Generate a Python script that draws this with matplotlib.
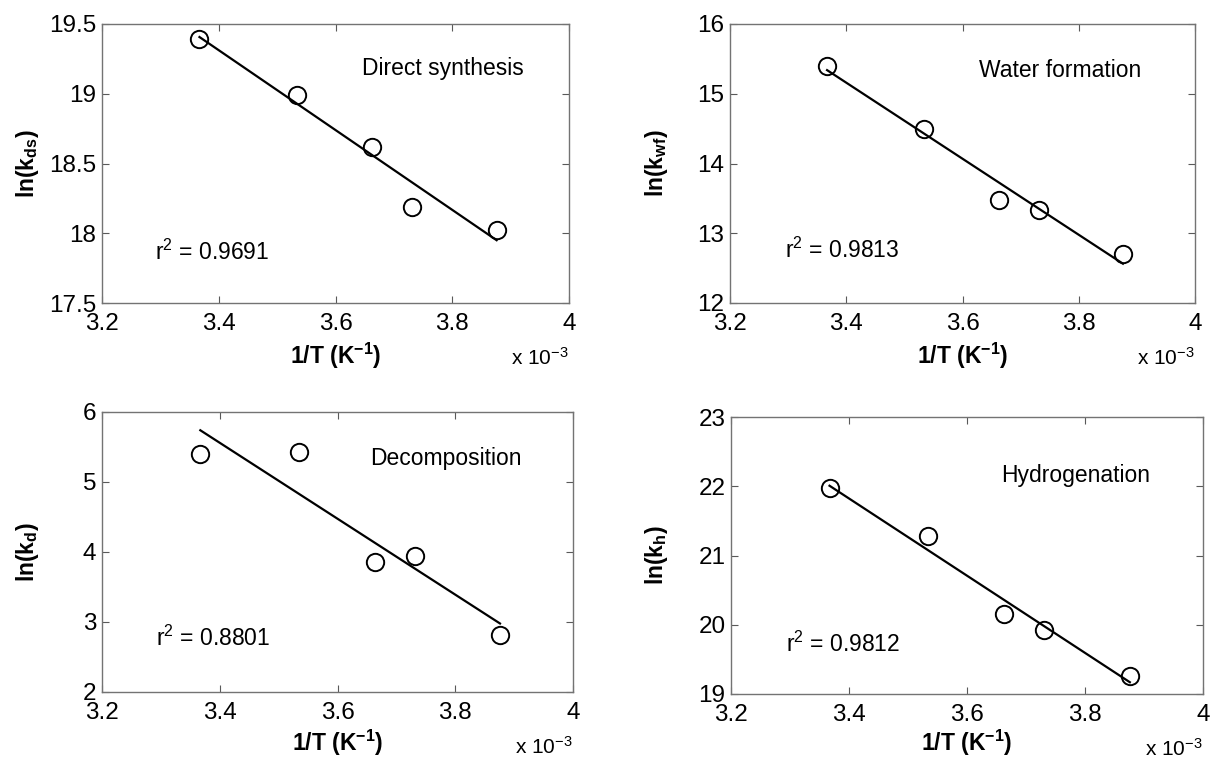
import numpy as np
import matplotlib
matplotlib.use("Agg")
import matplotlib.pyplot as plt

plt.rcParams['font.family'] = ['Liberation Sans', 'DejaVu Sans']
plt.rcParams['mathtext.fontset'] = 'custom'
plt.rcParams['mathtext.rm'] = 'Liberation Sans'
plt.rcParams['mathtext.it'] = 'Liberation Sans'
plt.rcParams['mathtext.bf'] = 'Liberation Sans:bold'
plt.rcParams['mathtext.default'] = 'regular'

# 1/T values (x 10^-3 K^-1)
inv_T = [3.367, 3.534, 3.663, 3.731, 3.876]

ln_k_ds = [19.39, 18.99, 18.62, 18.19, 18.02]
ln_k_wf = [15.40, 14.50, 13.48, 13.33, 12.70]
ln_k_d = [5.40, 5.43, 3.86, 3.95, 2.81]
ln_k_h = [21.97, 21.28, 20.16, 19.92, 19.26]

titles = ["Direct synthesis", "Water formation", "Decomposition", "Hydrogenation"]
ylabels = [r"ln(k$_{ds}$)", r"ln(k$_{wf}$)", r"ln(k$_{d}$)", r"ln(k$_{h}$)"]
r2_texts = [r"r$^{2}$ = 0.9691", r"r$^{2}$ = 0.9813", r"r$^{2}$ = 0.8801", r"r$^{2}$ = 0.9812"]
yticks_list = [[17.5, 18, 18.5, 19, 19.5], [12, 13, 14, 15, 16], [2, 3, 4, 5, 6], [19, 20, 21, 22, 23]]
ytick_labels = [["17.5", "18", "18.5", "19", "19.5"], ["12", "13", "14", "15", "16"],
                ["2", "3", "4", "5", "6"], ["19", "20", "21", "22", "23"]]
xticks = [3.2, 3.4, 3.6, 3.8, 4.0]
xtick_labels = ["3.2", "3.4", "3.6", "3.8", "4"]

# annotation positions (data coords)
title_pos = [(3.645, 19.18), (3.628, 15.34), (3.655, 5.33), (3.658, 22.15)]
r2_pos = [(3.29, 17.86), (3.295, 12.76), (3.292, 2.76), (3.293, 19.72)]

series = [ln_k_ds, ln_k_wf, ln_k_d, ln_k_h]

W, H = 1210, 758
fig = plt.figure(figsize=(W / 100, H / 100), dpi=100)

boxes = [(102, 24, 569, 303), (730, 24, 1195, 303), (102, 412, 573, 692), (731, 417, 1203, 694)]
xlabel_y = [-0.135, -0.135, -0.128, -0.122]

fs_tick = 17.5
fs_lab = 16.5
fs_txt = 16.5
for i, (l, t, r, b) in enumerate(boxes):
    ax = fig.add_axes([l / W, 1 - b / H, (r - l) / W, (b - t) / H])
    x = np.array(inv_T)
    y = np.array(series[i])
    coef = np.polyfit(x, y, 1)
    xf = np.array([x.min(), x.max()])
    ax.plot(xf, np.polyval(coef, xf), color='black', lw=1.6, zorder=2)
    ax.plot(x, y, 'o', ms=12.5, mfc='none', mec='black', mew=1.4, zorder=3)
    ax.set_xlim(3.2, 4.0)
    yt = yticks_list[i]
    ax.set_ylim(yt[0], yt[-1])
    ax.set_xticks(xticks)
    ax.set_xticklabels(xtick_labels)
    ax.set_yticks(yt)
    ax.set_yticklabels(ytick_labels[i])
    ax.tick_params(direction='in', length=5, width=0.8, color='0.35',
                   top=True, right=True, labelsize=fs_tick)
    ax.tick_params(axis='x', pad=7)
    ax.tick_params(axis='y', pad=4)
    for sp in ax.spines.values():
        sp.set_color('0.45')
        sp.set_linewidth(1.0)
    ax.set_xlabel(r"1/T (K$^{-1}$)", fontsize=fs_lab, fontweight='bold')
    ax.set_ylabel(ylabels[i], fontsize=fs_lab, fontweight='bold')
    ax.xaxis.set_label_coords(0.5, xlabel_y[i])
    ax.yaxis.set_label_coords(-0.13, 0.5)
    ax.text(*title_pos[i], titles[i], fontsize=fs_txt, ha='left', va='center')
    ax.text(*r2_pos[i], r2_texts[i], fontsize=fs_txt, ha='left', va='center')
    ax.text(1.0, -0.222, r"x 10$^{-3}$", transform=ax.transAxes, fontsize=15,
            ha='right', va='baseline')

fig.savefig("out.png", dpi=100)
